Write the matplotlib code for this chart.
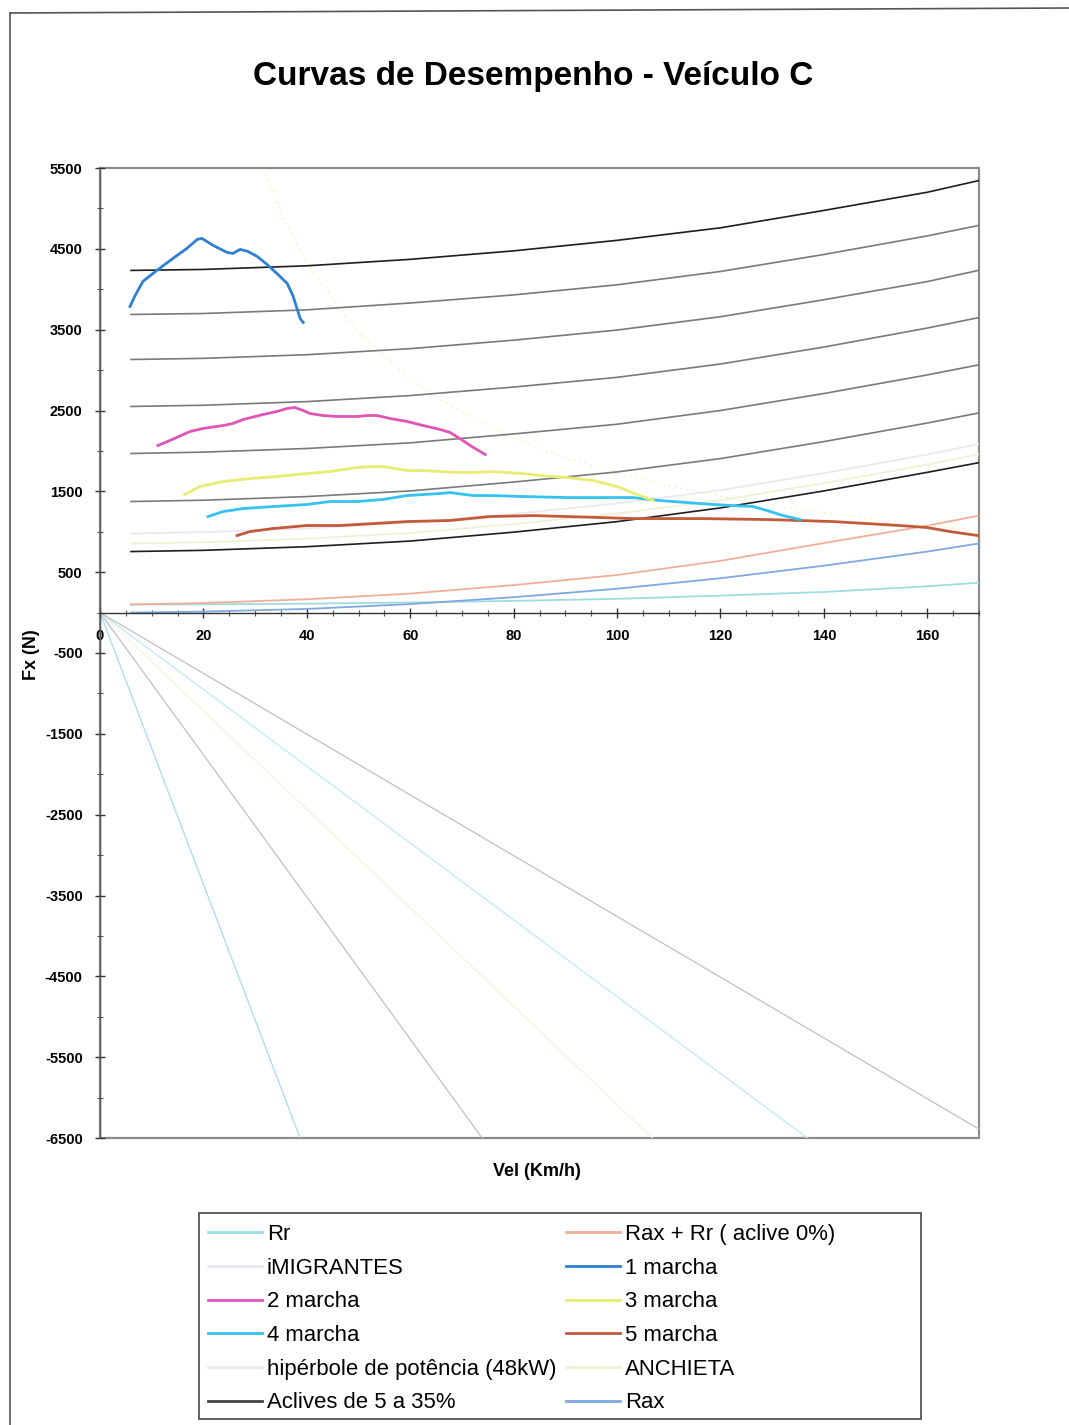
import matplotlib
matplotlib.use('Agg')
import matplotlib.pyplot as plt
from matplotlib.lines import Line2D
from matplotlib.patches import Rectangle
from matplotlib.ticker import MultipleLocator, FixedLocator

plt.rcParams['font.family'] = ['Liberation Sans', 'DejaVu Sans']

# ---------------- data ----------------
v_grid = [6, 20, 40, 60, 80, 100, 120, 140, 160, 170]

aclive_35 = [4233, 4245, 4290, 4370, 4475, 4605, 4760, 4975, 5200, 5345]
aclive_30 = [3688, 3700, 3745, 3830, 3930, 4055, 4220, 4430, 4660, 4790]
aclive_25 = [3131, 3145, 3190, 3265, 3370, 3495, 3660, 3870, 4095, 4235]
aclive_20 = [2550, 2565, 2610, 2685, 2790, 2910, 3075, 3285, 3520, 3650]
aclive_15 = [1968, 1985, 2030, 2100, 2210, 2330, 2500, 2710, 2940, 3065]
aclive_10 = [1374, 1390, 1435, 1505, 1615, 1740, 1905, 2115, 2345, 2470]
aclive_05 = [755, 770, 815, 885, 995, 1125, 1295, 1505, 1735, 1855]

imigrantes = [978, 995, 1040, 1110, 1220, 1350, 1515, 1725, 1955, 2085]
anchieta = [854, 870, 915, 985, 1095, 1225, 1390, 1600, 1830, 1960]

rr = [100, 102, 110, 125, 145, 170, 210, 255, 325, 370]
rax_rr = [100, 118, 165, 235, 340, 465, 640, 860, 1075, 1200]
rax = [0, 12, 45, 105, 190, 295, 425, 580, 755, 855]

hyp_v = [30, 35, 40, 50, 60, 70, 80, 90, 100, 110, 120, 130, 140, 150, 160, 170]
hyp_F = [5760, 4940, 4320, 3460, 2880, 2470, 2160, 1920, 1730, 1570, 1440, 1330,
         1235, 1150, 1080, 1015]

g1_v = [5.8, 6.8, 8.3, 11.0, 14.1, 16.8, 18.8, 19.7, 21.9, 24.6, 25.7, 27.1, 28.6,
        30.4, 32.3, 34.2, 36.2, 37.3, 38.1, 38.7, 39.3]
g1_F = [3787, 3923, 4097, 4233, 4381, 4505, 4616, 4629, 4542, 4455, 4443, 4493, 4468,
        4406, 4307, 4196, 4072, 3923, 3762, 3639, 3589]

g2_v = [11.2, 13.5, 17.4, 19.9, 23.8, 25.7, 27.7, 31.5, 34.2, 36.2, 37.7, 39.3, 40.6,
        43.1, 45.8, 49.7, 51.6, 53.6, 56.1, 59.4, 62.5, 65.8, 67.7, 69.6, 71.6, 74.5]
g2_F = [2067, 2129, 2240, 2277, 2314, 2339, 2389, 2450, 2488, 2525, 2537, 2500, 2463,
        2438, 2426, 2426, 2438, 2438, 2401, 2364, 2314, 2265, 2228, 2153, 2067, 1955]

g3_v = [16.4, 19.3, 23.8, 29.0, 34.2, 40.0, 44.5, 49.7, 52.8, 54.7, 59.4, 62.5, 65.8,
        69.1, 72.1, 75.4, 78.7, 81.8, 85.1, 90.3, 95.4, 100.0, 104.4, 107.0]
g3_F = [1460, 1559, 1621, 1658, 1683, 1720, 1745, 1795, 1807, 1807, 1757, 1757, 1745,
        1733, 1733, 1745, 1733, 1720, 1696, 1671, 1634, 1559, 1448, 1386]

g4_v = [20.9, 23.8, 27.7, 33.5, 40.0, 44.5, 49.7, 54.7, 59.4, 65.8, 67.7, 72.1, 75.4,
        81.8, 90.3, 103.1, 108.3, 113.5, 118.6, 122.4, 126.3, 129.0, 132.1, 135.4]
g4_F = [1188, 1250, 1287, 1312, 1337, 1374, 1374, 1399, 1448, 1473, 1485, 1448, 1448,
        1436, 1423, 1423, 1386, 1361, 1337, 1324, 1312, 1262, 1200, 1151]

g5_v = [26.5, 29.0, 33.5, 40.0, 46.4, 52.8, 59.4, 67.7, 75.4, 83.8, 90.3, 96.7, 103.1,
        116.1, 129.0, 135.4, 141.8, 148.4, 154.7, 160.0, 164.4, 169.8]
g5_F = [953, 1002, 1040, 1077, 1077, 1101, 1126, 1139, 1188, 1200, 1188, 1176, 1163,
        1163, 1151, 1139, 1126, 1101, 1077, 1052, 1002, 953]

# lines from origin in the negative region (one per gear)
neg_v_end = [38.7, 73.9, 106.8, 136.8, 170.0]
neg_F_end = [-6500, -6500, -6500, -6500, -6390]

x_ticks = [0, 20, 40, 60, 80, 100, 120, 140, 160]
y_ticks = [-6500, -5500, -4500, -3500, -2500, -1500, -500, 500, 1500, 2500, 3500, 4500, 5500]

# ---------------- styles ----------------
c_rr = '#9fdcdc'
c_raxrr = '#f2ad98'
c_rax = '#7fa9e0'
c_imig = '#ece8f2'
c_anch = '#eff1d4'
c_hyp = '#f3f3c4'
c_g1 = '#2f7fd2'
c_g2 = '#e055b8'
c_g3 = '#e9ec72'
c_g4 = '#34c2f0'
c_g5 = '#c25a3c'
c_acl = '#7a7a7a'
c_acl_dark = '#1e1e1e'
neg_colors = ['#a6dcee', '#bcc0ca', '#f5f2dc', '#bfeaf0', '#c8bcbc']

W, H = 1069, 1425
fig = plt.figure(figsize=(W / 100, H / 100), dpi=100)
ax = fig.add_axes([100 / W, 1 - 1138 / H, (979 - 100) / W, (1138 - 168) / H])

# negative fan lines
for ve, Fe, col in zip(neg_v_end, neg_F_end, neg_colors):
    ax.plot([0, ve], [0, Fe], color=col, lw=0.9, zorder=1)

# resistance lines
ax.plot(v_grid, rr, color=c_rr, lw=1.3, zorder=2)
ax.plot(v_grid, rax, color=c_rax, lw=1.3, zorder=2)
ax.plot(v_grid, rax_rr, color=c_raxrr, lw=1.3, zorder=2)
ax.plot(v_grid, imigrantes, color=c_imig, lw=1.3, zorder=2)
ax.plot(v_grid, anchieta, color=c_anch, lw=1.3, zorder=2)
ax.plot(hyp_v, hyp_F, color=c_hyp, lw=1.2, ls=(0, (1, 2.5)), zorder=2)

acl = [aclive_35, aclive_30, aclive_25, aclive_20, aclive_15, aclive_10, aclive_05]
for i, a in enumerate(acl):
    col = c_acl_dark if i in (0, len(acl) - 1) else c_acl
    ax.plot(v_grid, a, color=col, lw=1.2, zorder=3)

# gear curves
ax.plot(g5_v, g5_F, color=c_g5, lw=2.0, zorder=4)
ax.plot(g4_v, g4_F, color=c_g4, lw=2.0, zorder=4)
ax.plot(g3_v, g3_F, color=c_g3, lw=2.0, zorder=4)
ax.plot(g2_v, g2_F, color=c_g2, lw=2.0, zorder=4)
ax.plot(g1_v, g1_F, color=c_g1, lw=2.0, zorder=4)

ax.set_xlim(0, 170)
ax.set_ylim(-6500, 5500)

# plot area frame (gray) and x axis at zero
for s in ('top', 'right'):
    ax.spines[s].set_visible(False)
ax.spines['bottom'].set_position(('data', 0))
ax.spines['bottom'].set_color('#333333')
ax.spines['bottom'].set_linewidth(1.0)
ax.spines['left'].set_color('#555555')
ax.spines['left'].set_linewidth(1.0)
ax.add_patch(Rectangle((0, 0), 1, 1, transform=ax.transAxes, fill=False,
                       ec='#8c8c8c', lw=1.6, zorder=0.5, clip_on=False))

ax.xaxis.set_major_locator(FixedLocator(x_ticks))
ax.xaxis.set_minor_locator(MultipleLocator(5))
ax.yaxis.set_major_locator(FixedLocator(y_ticks))
ax.yaxis.set_minor_locator(MultipleLocator(500))
ax.set_xticklabels([str(t) for t in x_ticks])
ax.set_yticklabels([str(t) for t in y_ticks])
ax.tick_params(axis='both', which='major', direction='inout', length=7, width=1.0,
               colors='#333333', labelcolor='black', labelsize=10.5)
ax.tick_params(axis='both', which='minor', direction='inout', length=4, width=0.8,
               colors='#555555')
ax.tick_params(axis='x', which='major', pad=8)
ax.tick_params(axis='y', which='major', pad=9)
for lab in ax.get_xticklabels() + ax.get_yticklabels():
    lab.set_fontweight('bold')

# texts
fig.text(533 / W, 1 - 76 / H, 'Curvas de Desempenho - Veículo C', ha='center', va='center',
         fontsize=24, fontweight='bold')
fig.text(31 / W, 1 - 655 / H, 'Fx (N)', ha='center', va='center', rotation=90,
         fontsize=13, fontweight='bold')
fig.text(537 / W, 1 - 1172 / H, 'Vel (Km/h)', ha='center', va='center',
         fontsize=13, fontweight='bold')

# outer chart border (scan)
fig.add_artist(Line2D([10 / W, 1.0], [1 - 13 / H, 1 - 8 / H], color='#555555', lw=1.2))
fig.add_artist(Line2D([10 / W, 10 / W], [1 - 13 / H, 0.0], color='#555555', lw=1.2))

# legend
labels = ['Rr', 'iMIGRANTES', '2 marcha', '4 marcha', 'hipérbole de potência (48kW)',
          'Aclives de 5 a 35%',
          'Rax + Rr ( aclive 0%)', '1 marcha', '3 marcha', '5 marcha', 'ANCHIETA', 'Rax']
cols = [c_rr, c_imig, c_g2, c_g4, c_imig, '#444444',
        c_raxrr, c_g1, c_g3, c_g5, c_anch, c_rax]
handles = [Line2D([], [], color=c, lw=2.0) for c in cols]
fig.add_artist(Rectangle((199 / W, 1 - 1419 / H), (921 - 199) / W, (1419 - 1213) / H,
                         transform=fig.transFigure, fill=False, ec='#555555', lw=1.3))
fig.legend(handles, labels, loc='upper left', bbox_to_anchor=(199 / W, 1 - 1215 / H),
           ncol=2, frameon=False, fontsize=15.9, handlelength=2.45, handletextpad=0.22,
           labelspacing=0.575, columnspacing=0.45, borderpad=0.4, borderaxespad=0)

fig.savefig('out.png', dpi=100)
